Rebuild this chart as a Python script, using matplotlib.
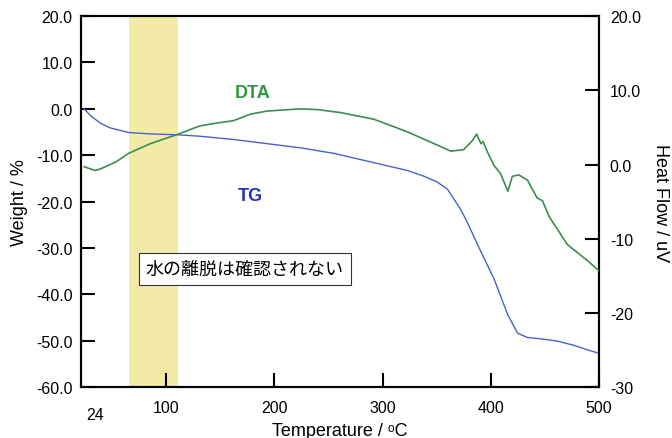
import numpy as np
import matplotlib
matplotlib.use("Agg")
import matplotlib.pyplot as plt

plt.rcParams['font.family'] = ['Liberation Sans', 'Noto Sans CJK JP', 'DejaVu Sans']

# TG curve (weight %, left axis)
tg_temp = [24, 30, 39, 48, 65, 85, 111, 131, 162, 193, 224, 255, 292, 323, 338, 350,
           360, 372, 377, 391, 403, 416, 425, 434, 450, 462, 477, 490, 500]
tg_weight = [0.0, -1.5, -3.1, -4.1, -5.1, -5.4, -5.6, -5.9, -6.6, -7.5, -8.4, -9.6,
             -11.6, -13.3, -14.5, -15.7, -17.3, -21.6, -23.8, -30.8, -36.6, -44.5,
             -48.4, -49.3, -49.7, -50.1, -51.0, -52.0, -52.7]

# DTA curve (heat flow uV, right axis)
dta_temp = [24, 34, 39, 54, 65, 85, 111, 131, 147, 162, 178, 193, 224, 240, 261, 292,
            323, 354, 363, 375, 383, 387, 391, 393, 397, 403, 409, 416, 420, 426, 434,
            443, 448, 454, 471, 490, 500]
dta_flow = [-0.3, -0.8, -0.6, 0.4, 1.5, 2.8, 4.1, 5.2, 5.6, 5.9, 6.8, 7.2, 7.5, 7.4,
            7.0, 6.1, 4.4, 2.4, 1.8, 2.0, 3.2, 4.1, 2.8, 3.1, 1.7, -0.1, -1.2, -3.6,
            -1.6, -1.4, -2.1, -4.5, -4.9, -7.0, -10.8, -13.0, -14.3]

band = (65, 111)
left_ticks = [-60, -50, -40, -30, -20, -10, 0, 10, 20]
right_ticks = [-30, -20, -10, 0, 10, 20]
right_labels = ["-30", "-20", "-10", "0.0", "10.0", "20.0"]
x_ticks = [100, 200, 300, 400, 500]

fig = plt.figure(figsize=(6.72, 4.39), dpi=100)
ax = fig.add_axes([0.1205, 0.116, 0.7705, 0.845])
ax2 = ax.twinx()

ax.axvspan(band[0], band[1], color="#f4eaa8", zorder=0, lw=0)
ax.plot(tg_temp, tg_weight, color="#4a62c4", lw=1.0, zorder=3)
ax2.plot(dta_temp, dta_flow, color="#3d8c55", lw=1.2, zorder=3)

ax.set_xlim(21, 500)
ax.set_ylim(-60, 20)
ax2.set_ylim(-30, 20)

ax.set_xticks(x_ticks)
ax.set_xticklabels([str(t) for t in x_ticks])
ax.set_yticks(left_ticks)
ax.set_yticklabels(["%.1f" % v for v in left_ticks])
ax2.set_yticks(right_ticks)
ax2.set_yticklabels(right_labels)

for a in (ax, ax2):
    for s in a.spines.values():
        s.set_linewidth(1.5)
ax.tick_params(axis="both", direction="in", length=10, width=1.5, labelsize=11.5, pad=6)
ax.tick_params(axis="x", pad=9)
ax2.tick_params(axis="y", direction="in", length=10, width=1.5, labelsize=11.5, pad=8)

ax.text(34, -64.2, "24", ha="center", va="top", fontsize=11.5, clip_on=False)

ax.set_xlabel("Temperature / \u1d52C", fontsize=13, labelpad=5)
ax.set_ylabel("Weight / %", fontsize=13, labelpad=6)
ax2.set_ylabel("Heat Flow / uV", fontsize=13, rotation=-90, labelpad=20)

ax.text(180, 3.6, "DTA", color="#2e9a3c", fontsize=13, fontweight="bold",
        ha="center", va="center")
ax.text(178, -18.6, "TG", color="#2233bb", fontsize=13, fontweight="bold",
        ha="center", va="center")
ax.text(81, -34.5, "水の離脱は確認されない", fontsize=13, ha="left", va="center",
        family=['Noto Sans CJK JP', 'DejaVu Sans'], zorder=5,
        bbox=dict(boxstyle="square,pad=0.4", fc="white", ec="#333333", lw=0.8))

fig.savefig("out.png", dpi=100)
